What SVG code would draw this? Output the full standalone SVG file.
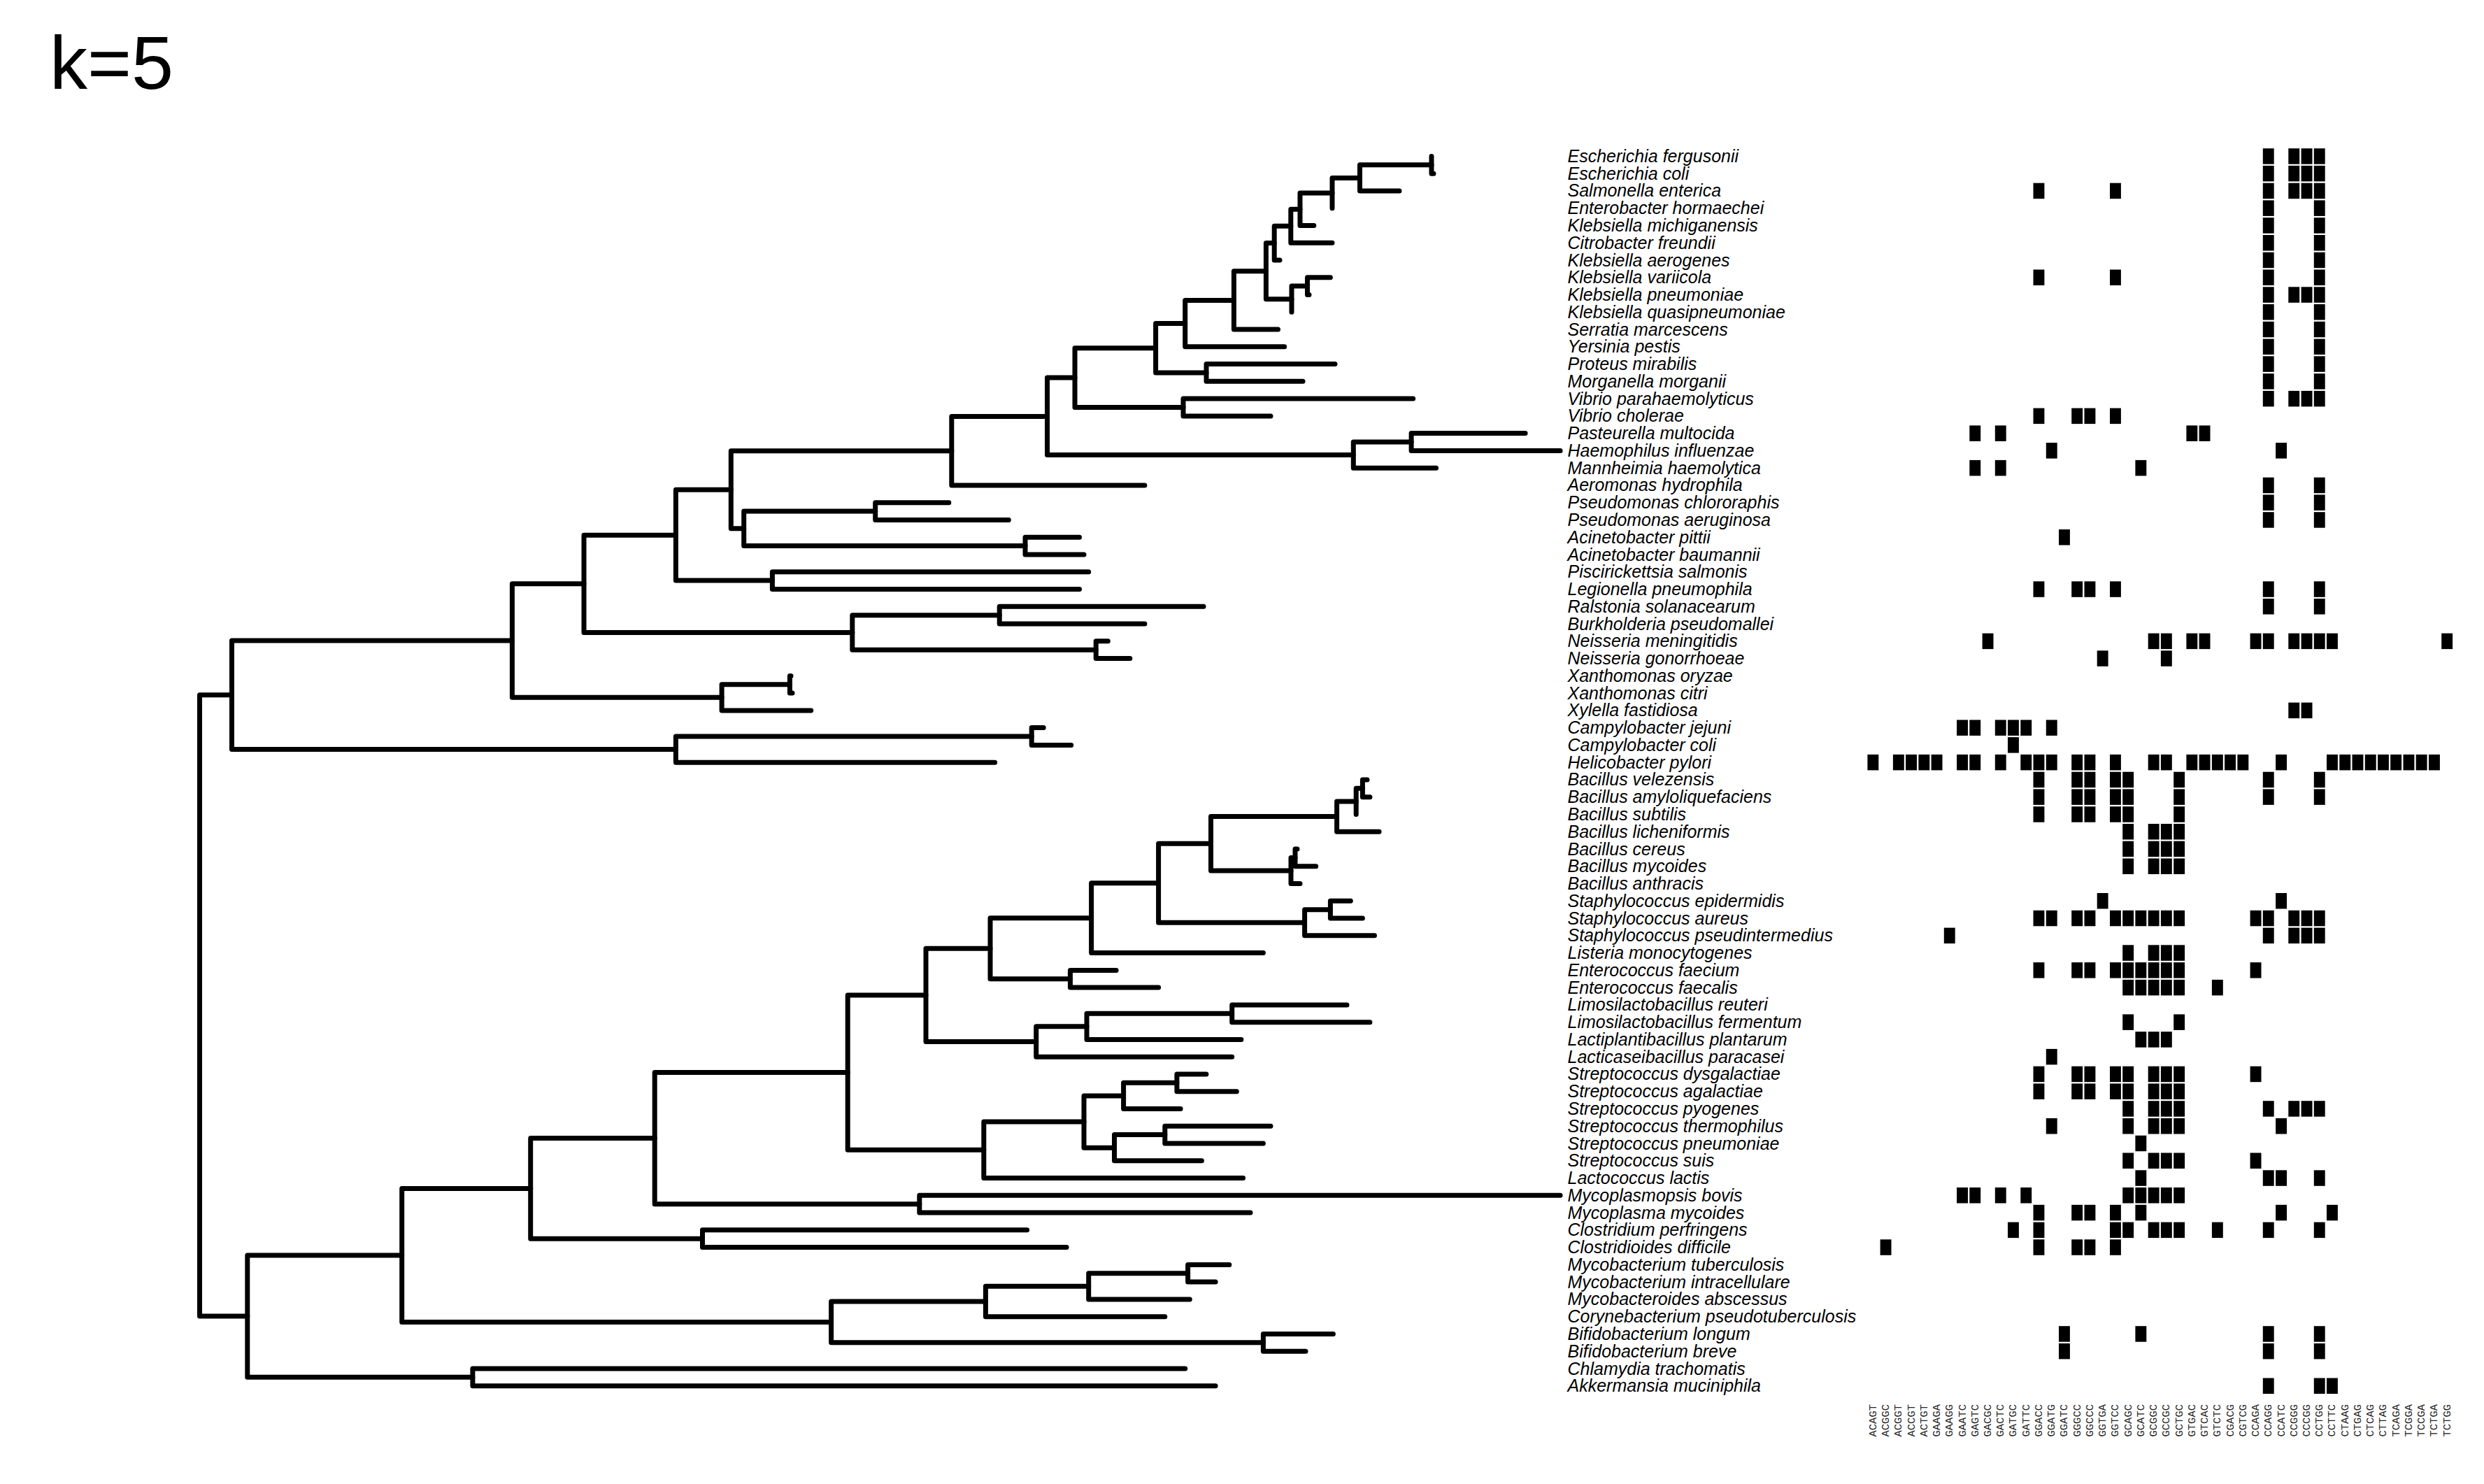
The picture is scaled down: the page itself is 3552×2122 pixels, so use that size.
<svg xmlns="http://www.w3.org/2000/svg" width="3552" height="2122" viewBox="0 0 3552 2122">
<style>
.br{fill:none;stroke:#000;stroke-width:7;stroke-linecap:round;stroke-linejoin:round}
.lab{font-family:"Liberation Sans",Arial,sans-serif;font-style:italic;font-size:25px;fill:#000}
.col{font-family:"Liberation Mono","Courier New",monospace;font-size:15.5px;fill:#222}
.ttl{font-family:"Liberation Sans",Arial,sans-serif;font-size:108px;fill:#000}
</style>
<defs><rect id="s" width="15.9" height="22.5" fill="#000"/></defs>
<rect width="3552" height="2122" fill="#fff"/>
<text class="ttl" x="71" y="127">k=5</text>
<g id="connectors" class="br">
<path d="M285.5 993.8V1882.1M285.5 993.8H331.5M285.5 1882.1H353.8"/>
<path d="M331.5 916.1V1071.6M331.5 916.1H732.4M331.5 1071.6H966.4"/>
<path d="M966.4 1053V1090.2M966.4 1053H1475.2M966.4 1090.2H1422.6"/>
<path d="M1475.2 1040.6V1065.4M1475.2 1040.6H1492.2M1475.2 1065.4H1531.7"/>
<path d="M732.4 834.8V997.3M732.4 834.8H835M732.4 997.3H1032.1"/>
<path d="M1032.1 978.7V1015.9M1032.1 978.7H1129.4M1032.1 1015.9H1159.7"/>
<path d="M1129.4 966.4V991.1M1129.4 966.4H1131M1129.4 991.1H1133"/>
<path d="M835 765.2V904.4M835 765.2H966.4M835 904.4H1218.8"/>
<path d="M1218.8 879.7V929.2M1218.8 879.7H1429.2M1218.8 929.2H1567.2"/>
<path d="M1429.2 867.3V892.1M1429.2 867.3H1721M1429.2 892.1H1636.9"/>
<path d="M1567.2 916.8V941.6M1567.2 916.8H1584.3M1567.2 941.6H1615.8"/>
<path d="M966.4 700.2V830.1M966.4 700.2H1045.3M966.4 830.1H1104.4"/>
<path d="M1104.4 817.8V842.5M1104.4 817.8H1556.7M1104.4 842.5H1543.5"/>
<path d="M1045.3 644.7V755.8M1045.3 644.7H1360.8M1045.3 755.8H1063.7"/>
<path d="M1063.7 731.1V780.6M1063.7 731.1H1251.7M1063.7 780.6H1466"/>
<path d="M1251.7 718.7V743.5M1251.7 718.7H1356.8M1251.7 743.5H1442.3"/>
<path d="M1466 768.2V793M1466 768.2H1543.5M1466 793H1550"/>
<path d="M1360.8 595.4V693.9M1360.8 595.4H1497.5M1360.8 693.9H1636.9"/>
<path d="M1497.5 540.1V650.6M1497.5 540.1H1537M1497.5 650.6H1935.3"/>
<path d="M1935.3 632V669.2M1935.3 632H2018.1M1935.3 669.2H2053.6"/>
<path d="M2018.1 619.6V644.4M2018.1 619.6H2181.1M2018.1 644.4H2231.1"/>
<path d="M1537 497.8V582.5M1537 497.8H1652.6M1537 582.5H1692"/>
<path d="M1692 570.1V594.9M1692 570.1H2020.7M1692 594.9H1817"/>
<path d="M1652.6 462.6V533M1652.6 462.6H1694.7M1652.6 533H1725"/>
<path d="M1725 520.6V545.3M1725 520.6H1909M1725 545.3H1863"/>
<path d="M1694.7 429.4V495.8M1694.7 429.4H1764.4M1694.7 495.8H1836.7"/>
<path d="M1764.4 387.7V471.1M1764.4 387.7H1810.4M1764.4 471.1H1827.5"/>
<path d="M1810.4 347.6V427.7M1810.4 347.6H1822.2M1810.4 427.7H1847"/>
<path d="M1847 409.1V446.3M1847 409.1H1869.5M1847 446.3H1847"/>
<path d="M1869.5 396.8V421.5M1869.5 396.8H1902.4M1869.5 421.5H1872"/>
<path d="M1822.2 323.2V372M1822.2 323.2H1845.8M1822.2 372H1830"/>
<path d="M1845.8 299.2V347.2M1845.8 299.2H1859M1845.8 347.2H1905"/>
<path d="M1859 276V322.5M1859 276H1905M1859 322.5H1878.8"/>
<path d="M1905 254.4V297.7M1905 254.4H1944.5M1905 297.7H1905"/>
<path d="M1944.5 235.8V272.9M1944.5 235.8H2047M1944.5 272.9H2001"/>
<path d="M2047 223.4V248.2M2047 223.4H2047M2047 248.2H2050"/>
<path d="M353.8 1794.9V1969.3M353.8 1794.9H574.7M353.8 1969.3H675.9"/>
<path d="M675.9 1957V1981.7M675.9 1957H1694.7M675.9 1981.7H1738.1"/>
<path d="M574.7 1699.4V1890.4M574.7 1699.4H758.7M574.7 1890.4H1188.6"/>
<path d="M1188.6 1861V1919.8M1188.6 1861H1409.4M1188.6 1919.8H1806.4"/>
<path d="M1806.4 1907.4V1932.2M1806.4 1907.4H1906.4M1806.4 1932.2H1867"/>
<path d="M1409.4 1839.3V1882.7M1409.4 1839.3H1556.7M1409.4 1882.7H1665.8"/>
<path d="M1556.7 1820.7V1857.9M1556.7 1820.7H1698.6M1556.7 1857.9H1701.3"/>
<path d="M1698.6 1808.4V1833.1M1698.6 1808.4H1757.8M1698.6 1833.1H1738.1"/>
<path d="M758.7 1627.6V1771.2M758.7 1627.6H936.2M758.7 1771.2H1004.5"/>
<path d="M1004.5 1758.8V1783.6M1004.5 1758.8H1468.6M1004.5 1783.6H1525.1"/>
<path d="M936.2 1533.6V1721.7M936.2 1533.6H1212.2M936.2 1721.7H1314.8"/>
<path d="M1314.8 1709.3V1734.1M1314.8 1709.3H2231.1M1314.8 1734.1H1788"/>
<path d="M1212.2 1422.9V1644.3M1212.2 1422.9H1324M1212.2 1644.3H1406.8"/>
<path d="M1406.8 1604V1684.5M1406.8 1604H1550M1406.8 1684.5H1777.5"/>
<path d="M1550 1566.9V1641.2M1550 1566.9H1606.6M1550 1641.2H1593.5"/>
<path d="M1606.6 1548.3V1585.5M1606.6 1548.3H1682.9M1606.6 1585.5H1688.1"/>
<path d="M1682.9 1535.9V1560.7M1682.9 1535.9H1724.9M1682.9 1560.7H1768.3"/>
<path d="M1593.5 1622.6V1659.8M1593.5 1622.6H1665.8M1593.5 1659.8H1718.4"/>
<path d="M1665.8 1610.2V1635M1665.8 1610.2H1817M1665.8 1635H1806.4"/>
<path d="M1324 1356.2V1489.5M1324 1356.2H1416M1324 1489.5H1481.7"/>
<path d="M1481.7 1467.8V1511.2M1481.7 1467.8H1554M1481.7 1511.2H1761.7"/>
<path d="M1554 1449.3V1486.4M1554 1449.3H1761.7M1554 1486.4H1774.9"/>
<path d="M1761.7 1436.9V1461.7M1761.7 1436.9H1926M1761.7 1461.7H1958.9"/>
<path d="M1416 1312.7V1399.7M1416 1312.7H1560.6M1416 1399.7H1530.4"/>
<path d="M1530.4 1387.4V1412.1M1530.4 1387.4H1596.1M1530.4 1412.1H1656.6"/>
<path d="M1560.6 1262.8V1362.6M1560.6 1262.8H1656.6M1560.6 1362.6H1806.4"/>
<path d="M1656.6 1206.3V1319.3M1656.6 1206.3H1731.5M1656.6 1319.3H1865.6"/>
<path d="M1865.6 1300.7V1337.8M1865.6 1300.7H1902.4M1865.6 1337.8H1965.5"/>
<path d="M1902.4 1288.3V1313.1M1902.4 1288.3H1931.3M1902.4 1313.1H1948.4"/>
<path d="M1731.5 1167.6V1245M1731.5 1167.6H1911.6M1731.5 1245H1846"/>
<path d="M1911.6 1145.9V1189.2M1911.6 1145.9H1939.2M1911.6 1189.2H1972.1"/>
<path d="M1939.2 1127.3V1164.5M1939.2 1127.3H1948.4M1939.2 1164.5H1939.2"/>
<path d="M1948.4 1114.9V1139.7M1948.4 1114.9H1955M1948.4 1139.7H1959"/>
<path d="M1846 1226.4V1263.5M1846 1226.4H1852M1846 1263.5H1859"/>
<path d="M1852 1214V1238.8M1852 1214H1855M1852 1238.8H1881.7"/>
</g>
<g id="labels" class="lab">
<g id="n00"><text x="2241.5" y="231.9">Escherichia fergusonii</text></g>
<g id="n01"><text x="2241.5" y="256.7">Escherichia coli</text></g>
<g id="n02"><text x="2241.5" y="281.4">Salmonella enterica</text></g>
<g id="n03"><text x="2241.5" y="306.2">Enterobacter hormaechei</text></g>
<g id="n04"><text x="2241.5" y="331.0">Klebsiella michiganensis</text></g>
<g id="n05"><text x="2241.5" y="355.7">Citrobacter freundii</text></g>
<g id="n06"><text x="2241.5" y="380.5">Klebsiella aerogenes</text></g>
<g id="n07"><text x="2241.5" y="405.3">Klebsiella variicola</text></g>
<g id="n08"><text x="2241.5" y="430.0">Klebsiella pneumoniae</text></g>
<g id="n09"><text x="2241.5" y="454.8">Klebsiella quasipneumoniae</text></g>
<g id="n10"><text x="2241.5" y="479.6">Serratia marcescens</text></g>
<g id="n11"><text x="2241.5" y="504.3">Yersinia pestis</text></g>
<g id="n12"><text x="2241.5" y="529.1">Proteus mirabilis</text></g>
<g id="n13"><text x="2241.5" y="553.8">Morganella morganii</text></g>
<g id="n14"><text x="2241.5" y="578.6">Vibrio parahaemolyticus</text></g>
<g id="n15"><text x="2241.5" y="603.4">Vibrio cholerae</text></g>
<g id="n16"><text x="2241.5" y="628.1">Pasteurella multocida</text></g>
<g id="n17"><text x="2241.5" y="652.9">Haemophilus influenzae</text></g>
<g id="n18"><text x="2241.5" y="677.7">Mannheimia haemolytica</text></g>
<g id="n19"><text x="2241.5" y="702.4">Aeromonas hydrophila</text></g>
<g id="n20"><text x="2241.5" y="727.2">Pseudomonas chlororaphis</text></g>
<g id="n21"><text x="2241.5" y="752.0">Pseudomonas aeruginosa</text></g>
<g id="n22"><text x="2241.5" y="776.7">Acinetobacter pittii</text></g>
<g id="n23"><text x="2241.5" y="801.5">Acinetobacter baumannii</text></g>
<g id="n24"><text x="2241.5" y="826.3">Piscirickettsia salmonis</text></g>
<g id="n25"><text x="2241.5" y="851.0">Legionella pneumophila</text></g>
<g id="n26"><text x="2241.5" y="875.8">Ralstonia solanacearum</text></g>
<g id="n27"><text x="2241.5" y="900.6">Burkholderia pseudomallei</text></g>
<g id="n28"><text x="2241.5" y="925.3">Neisseria meningitidis</text></g>
<g id="n29"><text x="2241.5" y="950.1">Neisseria gonorrhoeae</text></g>
<g id="n30"><text x="2241.5" y="974.9">Xanthomonas oryzae</text></g>
<g id="n31"><text x="2241.5" y="999.6">Xanthomonas citri</text></g>
<g id="n32"><text x="2241.5" y="1024.4">Xylella fastidiosa</text></g>
<g id="n33"><text x="2241.5" y="1049.1">Campylobacter jejuni</text></g>
<g id="n34"><text x="2241.5" y="1073.9">Campylobacter coli</text></g>
<g id="n35"><text x="2241.5" y="1098.7">Helicobacter pylori</text></g>
<g id="n36"><text x="2241.5" y="1123.4">Bacillus velezensis</text></g>
<g id="n37"><text x="2241.5" y="1148.2">Bacillus amyloliquefaciens</text></g>
<g id="n38"><text x="2241.5" y="1173.0">Bacillus subtilis</text></g>
<g id="n39"><text x="2241.5" y="1197.7">Bacillus licheniformis</text></g>
<g id="n40"><text x="2241.5" y="1222.5">Bacillus cereus</text></g>
<g id="n41"><text x="2241.5" y="1247.3">Bacillus mycoides</text></g>
<g id="n42"><text x="2241.5" y="1272.0">Bacillus anthracis</text></g>
<g id="n43"><text x="2241.5" y="1296.8">Staphylococcus epidermidis</text></g>
<g id="n44"><text x="2241.5" y="1321.6">Staphylococcus aureus</text></g>
<g id="n45"><text x="2241.5" y="1346.3">Staphylococcus pseudintermedius</text></g>
<g id="n46"><text x="2241.5" y="1371.1">Listeria monocytogenes</text></g>
<g id="n47"><text x="2241.5" y="1395.9">Enterococcus faecium</text></g>
<g id="n48"><text x="2241.5" y="1420.6">Enterococcus faecalis</text></g>
<g id="n49"><text x="2241.5" y="1445.4">Limosilactobacillus reuteri</text></g>
<g id="n50"><text x="2241.5" y="1470.2">Limosilactobacillus fermentum</text></g>
<g id="n51"><text x="2241.5" y="1494.9">Lactiplantibacillus plantarum</text></g>
<g id="n52"><text x="2241.5" y="1519.7">Lacticaseibacillus paracasei</text></g>
<g id="n53"><text x="2241.5" y="1544.4">Streptococcus dysgalactiae</text></g>
<g id="n54"><text x="2241.5" y="1569.2">Streptococcus agalactiae</text></g>
<g id="n55"><text x="2241.5" y="1594.0">Streptococcus pyogenes</text></g>
<g id="n56"><text x="2241.5" y="1618.7">Streptococcus thermophilus</text></g>
<g id="n57"><text x="2241.5" y="1643.5">Streptococcus pneumoniae</text></g>
<g id="n58"><text x="2241.5" y="1668.3">Streptococcus suis</text></g>
<g id="n59"><text x="2241.5" y="1693.0">Lactococcus lactis</text></g>
<g id="n60"><text x="2241.5" y="1717.8">Mycoplasmopsis bovis</text></g>
<g id="n61"><text x="2241.5" y="1742.6">Mycoplasma mycoides</text></g>
<g id="n62"><text x="2241.5" y="1767.3">Clostridium perfringens</text></g>
<g id="n63"><text x="2241.5" y="1792.1">Clostridioides difficile</text></g>
<g id="n64"><text x="2241.5" y="1816.9">Mycobacterium tuberculosis</text></g>
<g id="n65"><text x="2241.5" y="1841.6">Mycobacterium intracellulare</text></g>
<g id="n66"><text x="2241.5" y="1866.4">Mycobacteroides abscessus</text></g>
<g id="n67"><text x="2241.5" y="1891.2">Corynebacterium pseudotuberculosis</text></g>
<g id="n68"><text x="2241.5" y="1915.9">Bifidobacterium longum</text></g>
<g id="n69"><text x="2241.5" y="1940.7">Bifidobacterium breve</text></g>
<g id="n70"><text x="2241.5" y="1965.5">Chlamydia trachomatis</text></g>
<g id="n71"><text x="2241.5" y="1990.2">Akkermansia muciniphila</text></g>
</g>
<g id="matrix">
<g transform="translate(0 212.2)"><use href="#s" x="3235.8"/><use href="#s" x="3272.3"/><use href="#s" x="3290.6"/><use href="#s" x="3308.8"/></g>
<g transform="translate(0 236.9)"><use href="#s" x="3235.8"/><use href="#s" x="3272.3"/><use href="#s" x="3290.6"/><use href="#s" x="3308.8"/></g>
<g transform="translate(0 261.7)"><use href="#s" x="2907.5"/><use href="#s" x="3017.0"/><use href="#s" x="3235.8"/><use href="#s" x="3272.3"/><use href="#s" x="3290.6"/><use href="#s" x="3308.8"/></g>
<g transform="translate(0 286.4)"><use href="#s" x="3235.8"/><use href="#s" x="3308.8"/></g>
<g transform="translate(0 311.2)"><use href="#s" x="3235.8"/><use href="#s" x="3308.8"/></g>
<g transform="translate(0 336.0)"><use href="#s" x="3235.8"/><use href="#s" x="3308.8"/></g>
<g transform="translate(0 360.7)"><use href="#s" x="3235.8"/><use href="#s" x="3308.8"/></g>
<g transform="translate(0 385.5)"><use href="#s" x="2907.5"/><use href="#s" x="3017.0"/><use href="#s" x="3235.8"/><use href="#s" x="3308.8"/></g>
<g transform="translate(0 410.3)"><use href="#s" x="3235.8"/><use href="#s" x="3272.3"/><use href="#s" x="3290.6"/><use href="#s" x="3308.8"/></g>
<g transform="translate(0 435.0)"><use href="#s" x="3235.8"/><use href="#s" x="3308.8"/></g>
<g transform="translate(0 459.8)"><use href="#s" x="3235.8"/><use href="#s" x="3308.8"/></g>
<g transform="translate(0 484.6)"><use href="#s" x="3235.8"/><use href="#s" x="3308.8"/></g>
<g transform="translate(0 509.3)"><use href="#s" x="3235.8"/><use href="#s" x="3308.8"/></g>
<g transform="translate(0 534.1)"><use href="#s" x="3235.8"/><use href="#s" x="3308.8"/></g>
<g transform="translate(0 558.9)"><use href="#s" x="3235.8"/><use href="#s" x="3272.3"/><use href="#s" x="3290.6"/><use href="#s" x="3308.8"/></g>
<g transform="translate(0 583.6)"><use href="#s" x="2907.5"/><use href="#s" x="2962.2"/><use href="#s" x="2980.5"/><use href="#s" x="3017.0"/></g>
<g transform="translate(0 608.4)"><use href="#s" x="2816.3"/><use href="#s" x="2852.8"/><use href="#s" x="3126.4"/><use href="#s" x="3144.6"/></g>
<g transform="translate(0 633.1)"><use href="#s" x="2925.8"/><use href="#s" x="3254.1"/></g>
<g transform="translate(0 657.9)"><use href="#s" x="2816.3"/><use href="#s" x="2852.8"/><use href="#s" x="3053.4"/></g>
<g transform="translate(0 682.7)"><use href="#s" x="3235.8"/><use href="#s" x="3308.8"/></g>
<g transform="translate(0 707.4)"><use href="#s" x="3235.8"/><use href="#s" x="3308.8"/></g>
<g transform="translate(0 732.2)"><use href="#s" x="3235.8"/><use href="#s" x="3308.8"/></g>
<g transform="translate(0 757.0)"><use href="#s" x="2944.0"/></g>
<g transform="translate(0 831.3)"><use href="#s" x="2907.5"/><use href="#s" x="2962.2"/><use href="#s" x="2980.5"/><use href="#s" x="3017.0"/><use href="#s" x="3235.8"/><use href="#s" x="3308.8"/></g>
<g transform="translate(0 856.0)"><use href="#s" x="3235.8"/><use href="#s" x="3308.8"/></g>
<g transform="translate(0 905.6)"><use href="#s" x="2834.6"/><use href="#s" x="3071.7"/><use href="#s" x="3089.9"/><use href="#s" x="3126.4"/><use href="#s" x="3144.6"/><use href="#s" x="3217.6"/><use href="#s" x="3235.8"/><use href="#s" x="3272.3"/><use href="#s" x="3290.6"/><use href="#s" x="3308.8"/><use href="#s" x="3327.0"/><use href="#s" x="3491.2"/></g>
<g transform="translate(0 930.3)"><use href="#s" x="2998.7"/><use href="#s" x="3089.9"/></g>
<g transform="translate(0 1004.6)"><use href="#s" x="3272.3"/><use href="#s" x="3290.6"/></g>
<g transform="translate(0 1029.4)"><use href="#s" x="2798.1"/><use href="#s" x="2816.3"/><use href="#s" x="2852.8"/><use href="#s" x="2871.0"/><use href="#s" x="2889.3"/><use href="#s" x="2925.8"/></g>
<g transform="translate(0 1054.1)"><use href="#s" x="2871.0"/></g>
<g transform="translate(0 1078.9)"><use href="#s" x="2670.4"/><use href="#s" x="2706.9"/><use href="#s" x="2725.1"/><use href="#s" x="2743.4"/><use href="#s" x="2761.6"/><use href="#s" x="2798.1"/><use href="#s" x="2816.3"/><use href="#s" x="2852.8"/><use href="#s" x="2889.3"/><use href="#s" x="2907.5"/><use href="#s" x="2925.8"/><use href="#s" x="2962.2"/><use href="#s" x="2980.5"/><use href="#s" x="3017.0"/><use href="#s" x="3071.7"/><use href="#s" x="3089.9"/><use href="#s" x="3126.4"/><use href="#s" x="3144.6"/><use href="#s" x="3162.9"/><use href="#s" x="3181.1"/><use href="#s" x="3199.4"/><use href="#s" x="3254.1"/><use href="#s" x="3327.0"/><use href="#s" x="3345.3"/><use href="#s" x="3363.5"/><use href="#s" x="3381.8"/><use href="#s" x="3400.0"/><use href="#s" x="3418.2"/><use href="#s" x="3436.5"/><use href="#s" x="3454.7"/><use href="#s" x="3473.0"/></g>
<g transform="translate(0 1103.7)"><use href="#s" x="2907.5"/><use href="#s" x="2962.2"/><use href="#s" x="2980.5"/><use href="#s" x="3017.0"/><use href="#s" x="3035.2"/><use href="#s" x="3108.2"/><use href="#s" x="3235.8"/><use href="#s" x="3308.8"/></g>
<g transform="translate(0 1128.4)"><use href="#s" x="2907.5"/><use href="#s" x="2962.2"/><use href="#s" x="2980.5"/><use href="#s" x="3017.0"/><use href="#s" x="3035.2"/><use href="#s" x="3108.2"/><use href="#s" x="3235.8"/><use href="#s" x="3308.8"/></g>
<g transform="translate(0 1153.2)"><use href="#s" x="2907.5"/><use href="#s" x="2962.2"/><use href="#s" x="2980.5"/><use href="#s" x="3017.0"/><use href="#s" x="3035.2"/><use href="#s" x="3108.2"/></g>
<g transform="translate(0 1178.0)"><use href="#s" x="3035.2"/><use href="#s" x="3071.7"/><use href="#s" x="3089.9"/><use href="#s" x="3108.2"/></g>
<g transform="translate(0 1202.7)"><use href="#s" x="3035.2"/><use href="#s" x="3071.7"/><use href="#s" x="3089.9"/><use href="#s" x="3108.2"/></g>
<g transform="translate(0 1227.5)"><use href="#s" x="3035.2"/><use href="#s" x="3071.7"/><use href="#s" x="3089.9"/><use href="#s" x="3108.2"/></g>
<g transform="translate(0 1277.0)"><use href="#s" x="2998.7"/><use href="#s" x="3254.1"/></g>
<g transform="translate(0 1301.8)"><use href="#s" x="2907.5"/><use href="#s" x="2925.8"/><use href="#s" x="2962.2"/><use href="#s" x="2980.5"/><use href="#s" x="3017.0"/><use href="#s" x="3035.2"/><use href="#s" x="3053.4"/><use href="#s" x="3071.7"/><use href="#s" x="3089.9"/><use href="#s" x="3108.2"/><use href="#s" x="3217.6"/><use href="#s" x="3235.8"/><use href="#s" x="3272.3"/><use href="#s" x="3290.6"/><use href="#s" x="3308.8"/></g>
<g transform="translate(0 1326.6)"><use href="#s" x="2779.8"/><use href="#s" x="3235.8"/><use href="#s" x="3272.3"/><use href="#s" x="3290.6"/><use href="#s" x="3308.8"/></g>
<g transform="translate(0 1351.3)"><use href="#s" x="3035.2"/><use href="#s" x="3071.7"/><use href="#s" x="3089.9"/><use href="#s" x="3108.2"/></g>
<g transform="translate(0 1376.1)"><use href="#s" x="2907.5"/><use href="#s" x="2962.2"/><use href="#s" x="2980.5"/><use href="#s" x="3017.0"/><use href="#s" x="3035.2"/><use href="#s" x="3053.4"/><use href="#s" x="3071.7"/><use href="#s" x="3089.9"/><use href="#s" x="3108.2"/><use href="#s" x="3217.6"/></g>
<g transform="translate(0 1400.9)"><use href="#s" x="3035.2"/><use href="#s" x="3053.4"/><use href="#s" x="3071.7"/><use href="#s" x="3089.9"/><use href="#s" x="3108.2"/><use href="#s" x="3162.9"/></g>
<g transform="translate(0 1450.4)"><use href="#s" x="3035.2"/><use href="#s" x="3108.2"/></g>
<g transform="translate(0 1475.2)"><use href="#s" x="3053.4"/><use href="#s" x="3071.7"/><use href="#s" x="3089.9"/></g>
<g transform="translate(0 1499.9)"><use href="#s" x="2925.8"/></g>
<g transform="translate(0 1524.7)"><use href="#s" x="2907.5"/><use href="#s" x="2962.2"/><use href="#s" x="2980.5"/><use href="#s" x="3017.0"/><use href="#s" x="3035.2"/><use href="#s" x="3071.7"/><use href="#s" x="3089.9"/><use href="#s" x="3108.2"/><use href="#s" x="3217.6"/></g>
<g transform="translate(0 1549.4)"><use href="#s" x="2907.5"/><use href="#s" x="2962.2"/><use href="#s" x="2980.5"/><use href="#s" x="3017.0"/><use href="#s" x="3035.2"/><use href="#s" x="3071.7"/><use href="#s" x="3089.9"/><use href="#s" x="3108.2"/></g>
<g transform="translate(0 1574.2)"><use href="#s" x="3035.2"/><use href="#s" x="3071.7"/><use href="#s" x="3089.9"/><use href="#s" x="3108.2"/><use href="#s" x="3235.8"/><use href="#s" x="3272.3"/><use href="#s" x="3290.6"/><use href="#s" x="3308.8"/></g>
<g transform="translate(0 1599.0)"><use href="#s" x="2925.8"/><use href="#s" x="3035.2"/><use href="#s" x="3071.7"/><use href="#s" x="3089.9"/><use href="#s" x="3108.2"/><use href="#s" x="3254.1"/></g>
<g transform="translate(0 1623.7)"><use href="#s" x="3053.4"/></g>
<g transform="translate(0 1648.5)"><use href="#s" x="3035.2"/><use href="#s" x="3071.7"/><use href="#s" x="3089.9"/><use href="#s" x="3108.2"/><use href="#s" x="3217.6"/></g>
<g transform="translate(0 1673.3)"><use href="#s" x="3053.4"/><use href="#s" x="3235.8"/><use href="#s" x="3254.1"/><use href="#s" x="3308.8"/></g>
<g transform="translate(0 1698.0)"><use href="#s" x="2798.1"/><use href="#s" x="2816.3"/><use href="#s" x="2852.8"/><use href="#s" x="2889.3"/><use href="#s" x="3035.2"/><use href="#s" x="3053.4"/><use href="#s" x="3071.7"/><use href="#s" x="3089.9"/><use href="#s" x="3108.2"/></g>
<g transform="translate(0 1722.8)"><use href="#s" x="2907.5"/><use href="#s" x="2962.2"/><use href="#s" x="2980.5"/><use href="#s" x="3017.0"/><use href="#s" x="3053.4"/><use href="#s" x="3254.1"/><use href="#s" x="3327.0"/></g>
<g transform="translate(0 1747.6)"><use href="#s" x="2871.0"/><use href="#s" x="2907.5"/><use href="#s" x="3017.0"/><use href="#s" x="3035.2"/><use href="#s" x="3071.7"/><use href="#s" x="3089.9"/><use href="#s" x="3108.2"/><use href="#s" x="3162.9"/><use href="#s" x="3235.8"/><use href="#s" x="3308.8"/></g>
<g transform="translate(0 1772.3)"><use href="#s" x="2688.6"/><use href="#s" x="2907.5"/><use href="#s" x="2962.2"/><use href="#s" x="2980.5"/><use href="#s" x="3017.0"/></g>
<g transform="translate(0 1896.2)"><use href="#s" x="2944.0"/><use href="#s" x="3053.4"/><use href="#s" x="3235.8"/><use href="#s" x="3308.8"/></g>
<g transform="translate(0 1920.9)"><use href="#s" x="2944.0"/><use href="#s" x="3235.8"/><use href="#s" x="3308.8"/></g>
<g transform="translate(0 1970.5)"><use href="#s" x="3235.8"/><use href="#s" x="3308.8"/><use href="#s" x="3327.0"/></g>
</g>
<g id="columns" class="col" text-anchor="end">
<text transform="translate(2682.8 2008) rotate(-90)">ACAGT</text>
<text transform="translate(2701.0 2008) rotate(-90)">ACGGC</text>
<text transform="translate(2719.3 2008) rotate(-90)">ACGGT</text>
<text transform="translate(2737.5 2008) rotate(-90)">ACCGT</text>
<text transform="translate(2755.8 2008) rotate(-90)">ACTGT</text>
<text transform="translate(2774.0 2008) rotate(-90)">GAAGA</text>
<text transform="translate(2792.2 2008) rotate(-90)">GAAGG</text>
<text transform="translate(2810.5 2008) rotate(-90)">GAATC</text>
<text transform="translate(2828.7 2008) rotate(-90)">GAGTC</text>
<text transform="translate(2847.0 2008) rotate(-90)">GACGC</text>
<text transform="translate(2865.2 2008) rotate(-90)">GACTC</text>
<text transform="translate(2883.4 2008) rotate(-90)">GATGC</text>
<text transform="translate(2901.7 2008) rotate(-90)">GATTC</text>
<text transform="translate(2919.9 2008) rotate(-90)">GGACC</text>
<text transform="translate(2938.2 2008) rotate(-90)">GGATG</text>
<text transform="translate(2956.4 2008) rotate(-90)">GGATC</text>
<text transform="translate(2974.6 2008) rotate(-90)">GGGCC</text>
<text transform="translate(2992.9 2008) rotate(-90)">GGCCC</text>
<text transform="translate(3011.1 2008) rotate(-90)">GGTGA</text>
<text transform="translate(3029.4 2008) rotate(-90)">GGTCC</text>
<text transform="translate(3047.6 2008) rotate(-90)">GCAGC</text>
<text transform="translate(3065.8 2008) rotate(-90)">GCATC</text>
<text transform="translate(3084.1 2008) rotate(-90)">GCGGC</text>
<text transform="translate(3102.3 2008) rotate(-90)">GCCGC</text>
<text transform="translate(3120.6 2008) rotate(-90)">GCTGC</text>
<text transform="translate(3138.8 2008) rotate(-90)">GTGAC</text>
<text transform="translate(3157.0 2008) rotate(-90)">GTCAC</text>
<text transform="translate(3175.3 2008) rotate(-90)">GTCTC</text>
<text transform="translate(3193.5 2008) rotate(-90)">CGACG</text>
<text transform="translate(3211.8 2008) rotate(-90)">CGTCG</text>
<text transform="translate(3230.0 2008) rotate(-90)">CCAGA</text>
<text transform="translate(3248.2 2008) rotate(-90)">CCAGG</text>
<text transform="translate(3266.5 2008) rotate(-90)">CCATC</text>
<text transform="translate(3284.7 2008) rotate(-90)">CCGGG</text>
<text transform="translate(3303.0 2008) rotate(-90)">CCCGG</text>
<text transform="translate(3321.2 2008) rotate(-90)">CCTGG</text>
<text transform="translate(3339.4 2008) rotate(-90)">CCTTC</text>
<text transform="translate(3357.7 2008) rotate(-90)">CTAAG</text>
<text transform="translate(3375.9 2008) rotate(-90)">CTGAG</text>
<text transform="translate(3394.2 2008) rotate(-90)">CTCAG</text>
<text transform="translate(3412.4 2008) rotate(-90)">CTTAG</text>
<text transform="translate(3430.6 2008) rotate(-90)">TCAGA</text>
<text transform="translate(3448.9 2008) rotate(-90)">TCGGA</text>
<text transform="translate(3467.1 2008) rotate(-90)">TCCGA</text>
<text transform="translate(3485.4 2008) rotate(-90)">TCTGA</text>
<text transform="translate(3503.6 2008) rotate(-90)">TCTGG</text>
</g>
</svg>
